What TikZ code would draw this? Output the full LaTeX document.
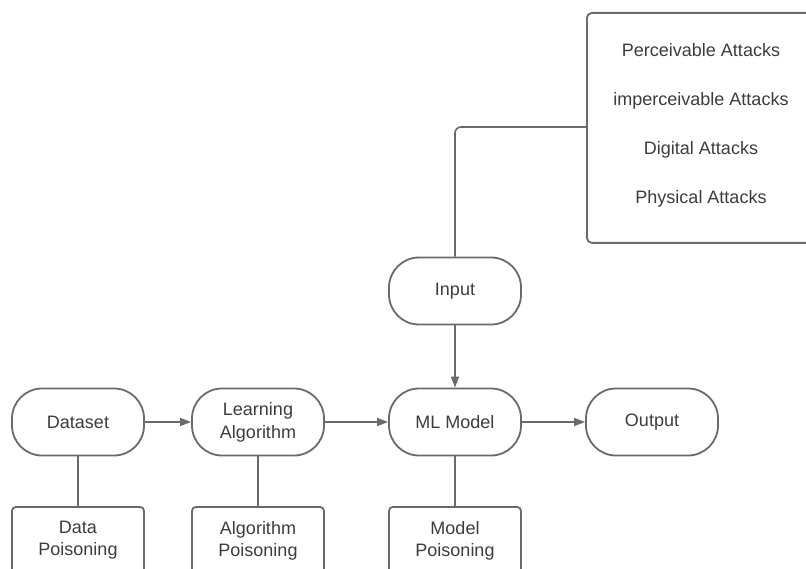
\documentclass[tikz,border=0pt]{standalone}
\usepackage{fontspec}
\setmainfont{Liberation Sans}
\usetikzlibrary{arrows.meta}
\definecolor{ln}{HTML}{6A6A6A}
\definecolor{tx}{HTML}{3C3C3C}
\tikzset{
  pill/.style={draw=ln, line width=1.8pt, rounded corners=30pt, minimum width=132pt, minimum height=67pt, inner sep=0pt, align=center, text=tx, font=\fontsize{18}{23}\selectfont},
  pbox/.style={draw=ln, line width=1.8pt, rounded corners=4pt, minimum width=132pt, minimum height=67pt, inner sep=0pt, align=center, text=tx, font=\fontsize{18}{22}\selectfont},
  conn/.style={draw=ln, line width=1.6pt},
  arr/.style={conn, -{Triangle[length=11pt,width=8pt]}},
  atk/.style={text=tx, font=\fontsize{18}{21}\selectfont, inner sep=0pt}
}
\begin{document}
\begin{tikzpicture}[x=1pt,y=-1pt]
\useasboundingbox (0,0) rectangle (806,569);
\clip (0,0) rectangle (806,569);
% attacks box
\node[draw=ln, line width=1.8pt, rounded corners=5pt, minimum width=232pt, minimum height=230pt, inner sep=0pt, anchor=north west] (atkbox) at (586,12) {};
\node[atk] (a1) at (701,50) {Perceivable Attacks};
\node[atk] (a2) at (701,101) {imperceivable Attacks};
\node[atk] (a3) at (701,150) {Digital Attacks};
\node[atk] (a4) at (701,199) {Physical Attacks};
\coordinate (cj) at (586,127);
% main row
\node[pill] (input) at (455,291) {Input};
\node[pill] (dataset) at (78,422) {Dataset};
\node[pill] (learn) at (258,422) {Learning\\Algorithm};
\node[pill] (ml) at (455,422) {ML Model};
\node[pill] (out) at (652,422) {Output};
% poisoning boxes
\node[pbox, anchor=north] (dp) at (78,506) {Data\\Poisoning};
\node[pbox, anchor=north] (ap) at (258,506) {Algorithm\\Poisoning};
\node[pbox, anchor=north] (mp) at (455,506) {Model\\Poisoning};
% connectors
\draw[conn, rounded corners=6pt] (input.north) |- (cj);
\draw[arr] (input.south) -- (ml.north);
\draw[arr] (dataset.east) -- (learn.west);
\draw[arr] (learn.east) -- (ml.west);
\draw[arr] (ml.east) -- (out.west);
\draw[conn] (dataset.south) -- (dp.north);
\draw[conn] (learn.south) -- (ap.north);
\draw[conn] (ml.south) -- (mp.north);
\end{tikzpicture}
\end{document}
